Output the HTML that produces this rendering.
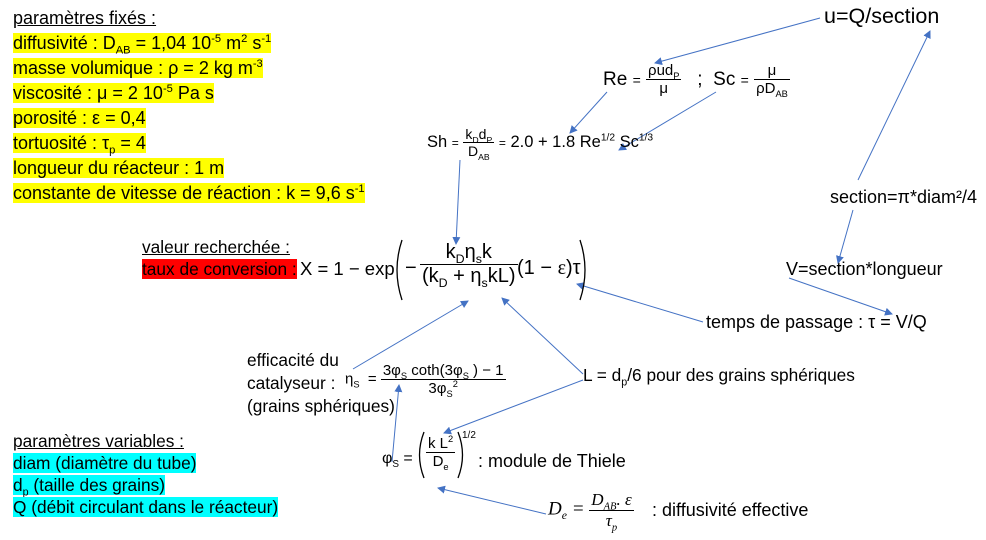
<!DOCTYPE html>
<html><head><meta charset="utf-8">
<style>
body{margin:0;background:#fff;}
#c{position:relative;width:986px;height:540px;overflow:hidden;font-family:"Liberation Sans",sans-serif;color:#000;}
.a{position:absolute;white-space:nowrap;}
.n{font-size:18px;line-height:23.7px;}
.y{background:#ffff00;}
.cy{background:#00ffff;}
.u{text-decoration:underline;}
sub,sup{font-size:62%;line-height:0;}
.fr{display:inline-block;vertical-align:middle;text-align:center;line-height:1.15;}
.fr .t{display:block;border-bottom:1px solid #000;padding:0 2px;}
.fr .b{display:block;padding:0 2px;}
.s{font-family:"Liberation Serif",serif;}
</style></head><body><div id="c">
<svg width="986" height="540" style="position:absolute;left:0;top:0" >
<defs><marker id="ar" markerWidth="8" markerHeight="8" refX="7" refY="4" orient="auto" markerUnits="userSpaceOnUse"><path d="M0,0 L8,4 L0,8 z" fill="#4472c4"/></marker></defs>
<g stroke="#4472c4" stroke-width="1" fill="none" marker-end="url(#ar)">
<line x1="820" y1="18" x2="655" y2="63"/>
<line x1="607" y1="92" x2="570" y2="133"/>
<line x1="716" y1="92" x2="619" y2="150"/>
<line x1="460" y1="160" x2="456" y2="244"/>
<line x1="858" y1="180" x2="930" y2="31"/>
<line x1="853" y1="210" x2="838" y2="263"/>
<line x1="789" y1="278" x2="892" y2="314"/>
<line x1="703" y1="322" x2="577" y2="284"/>
<line x1="353" y1="369" x2="468" y2="301"/>
<line x1="583" y1="374" x2="502" y2="298"/>
<line x1="583" y1="380" x2="444" y2="433"/>
<line x1="392" y1="462" x2="399" y2="385"/>
<line x1="546" y1="514" x2="438" y2="488"/>
</g>
<g stroke="#000" stroke-width="1.3" fill="none">
<path d="M402,240 Q392,270 402,300"/>
<path d="M580,240 Q590,270 580,300"/>
<path d="M424,432 Q415,455 424,478"/>
<path d="M458,432 Q467,455 458,478"/>
</g>
</svg>

<div class="a n" style="left:13px;top:6px;line-height:25px;">
<span class="u">paramètres fixés :</span><br>
<span class="y">diffusivité : D<sub>AB</sub> = 1,04 10<sup>-5</sup> m<sup>2</sup> s<sup>-1</sup></span><br>
<span class="y">masse volumique : ρ = 2 kg m<sup>-3</sup></span><br>
<span class="y">viscosité : μ = 2 10<sup>-5</sup> Pa s</span><br>
<span class="y">porosité : ε = 0,4</span><br>
<span class="y">tortuosité : τ<sub>p</sub> = 4</span><br>
<span class="y">longueur du réacteur : 1 m</span><br>
<span class="y">constante de vitesse de réaction : k = 9,6 s<sup>-1</sup></span>
</div>

<div class="a n" style="left:13px;top:430px;line-height:22px;font-size:17.3px;">
<span class="u">paramètres variables :</span><br>
<span class="cy">diam (diamètre du tube)</span><br>
<span class="cy">d<sub>p</sub> (taille des grains)</span><br>
<span class="cy">Q (débit circulant dans le réacteur)</span>
</div>

<div class="a n" style="left:824px;top:5px;font-size:21.5px;">u=Q/section</div>
<div class="a n" style="left:830px;top:186px;">section=π*diam²/4</div>
<div class="a n" style="left:786px;top:258px;">V=section*longueur</div>
<div class="a n" style="left:706px;top:311px;">temps de passage : τ = V/Q</div>
<div class="a n" style="left:583px;top:364px;font-size:17.3px;">L = d<sub>p</sub>/6 pour des grains sphériques</div>
<div class="a n" style="left:247px;top:349px;line-height:23px;font-size:17.3px;">efficacité du<br>catalyseur :<br>(grains sphériques)</div>
<div class="a n" style="left:142px;top:236px;line-height:22px;font-size:17.3px;"><span class="u">valeur recherchée :</span><br><span style="background:#ff0000">taux de conversion :</span></div>

<!-- Re ; Sc -->
<div class="a" style="left:603px;top:62px;font-size:19px;">Re <span style="font-size:14px">=</span> <span class="fr" style="font-size:15px"><span class="t">ρud<sub>P</sub></span><span class="b">μ</span></span>
&nbsp;&nbsp;; &nbsp;Sc <span style="font-size:14px">=</span> <span class="fr" style="font-size:15px"><span class="t">μ</span><span class="b">ρD<sub>AB</sub></span></span></div>

<!-- Sh -->
<div class="a" style="left:427px;top:126px;font-size:16.5px;">Sh <span style="font-size:12px">=</span> <span class="fr" style="font-size:14px"><span class="t">k<sub>D</sub>d<sub>P</sub></span><span class="b">D<sub>AB</sub></span></span> <span style="font-size:12px">=</span> 2.0 + 1.8 Re<sup>1/2</sup> Sc<sup>1/3</sup></div>

<!-- X equation -->
<div class="a" style="left:300px;top:258px;font-size:18.5px;">X = 1 − exp</div>
<div class="a" style="left:405px;top:257px;font-size:20px;">−</div>
<div class="a" style="left:420px;top:241px;font-size:20px;"><span class="fr"><span class="t">k<sub>D</sub>η<sub>s</sub>k</span><span class="b">(k<sub>D</sub> + η<sub>s</sub>kL)</span></span></div>
<div class="a" style="left:517px;top:257px;font-size:20px;">(1 − <span class="s">ε</span>)τ</div>

<!-- eta -->
<div class="a" style="left:345px;top:362px;font-size:15px;">η<sub>S</sub> &nbsp;= <span class="fr" style="font-size:15px"><span class="t">3φ<sub>S</sub> coth(3φ<sub>S</sub> ) − 1</span><span class="b">3φ<sub>S</sub><sup>2</sup></span></span></div>

<!-- phi -->
<div class="a" style="left:382px;top:450px;font-size:16px;">φ<sub>S</sub> =</div>
<div class="a" style="left:426px;top:435px;font-size:15px;"><span class="fr"><span class="t">k L<sup>2</sup></span><span class="b">D<sub>e</sub></span></span></div>
<div class="a" style="left:462px;top:430px;font-size:10px;">1/2</div>
<div class="a n" style="left:478px;top:450px;">: module de Thiele</div>

<!-- De -->
<div class="a s" style="left:548px;top:490px;font-size:19px;font-style:italic;">D<sub>e</sub> = <span class="fr" style="font-size:17px"><span class="t">D<sub>AB</sub>. ε</span><span class="b">τ<sub>p</sub></span></span></div>
<div class="a n" style="left:652px;top:499px;">: diffusivité effective</div>
</div></body></html>
